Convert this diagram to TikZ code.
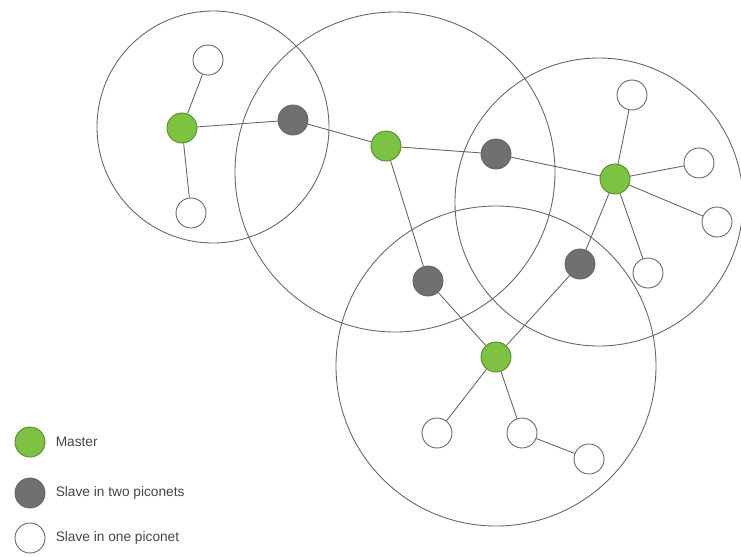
\documentclass[tikz,border=0pt]{standalone}
\usepackage{fontspec}
\setsansfont{Liberation Sans}
\usetikzlibrary{calc,positioning}
\definecolor{mastergreen}{HTML}{7DC243}
\definecolor{slavegray}{HTML}{707070}
\definecolor{linegray}{HTML}{666666}
\definecolor{textgray}{HTML}{454545}
\tikzset{
  dev/.style={circle, inner sep=0pt, minimum size=0.6cm, line width=0.5pt},
  master/.style={dev, draw=mastergreen!70!black, fill=mastergreen},
  slavetwo/.style={dev, draw=slavegray!90!black, fill=slavegray},
  slaveone/.style={dev, draw=linegray, fill=white},
  piconet/.style={draw=linegray, line width=0.5pt},
  link/.style={draw=linegray, line width=0.5pt},
  legend/.style={inner sep=0pt, text=textgray, font=\sffamily\fontsize{7.8}{9.5}\selectfont}
}

\begin{document}
\begin{tikzpicture}[x=0.02cm, y=-0.02cm]
\useasboundingbox (0,0) rectangle (741,556);
% piconets
\draw[piconet] (213,127) circle (116*0.02cm);
\draw[piconet] (395,172) circle (160*0.02cm);
\draw[piconet] (599,202) circle (144*0.02cm);
\draw[piconet] (496,366) circle (160*0.02cm);

% masters
\node[master] (mA) at (182,128) {};
\node[master] (mB) at (386,146) {};
\node[master] (mC) at (615,179) {};
\node[master] (mD) at (496,357) {};

% slaves in two piconets
\node[slavetwo] (g1) at (293,120) {};
\node[slavetwo] (g2) at (496,154) {};
\node[slavetwo] (g3) at (428,281) {};
\node[slavetwo] (g4) at (580,264) {};

% slaves in one piconet
\foreach \name/\x/\y in {a1/208/60, a2/191/213, c1/632/95, c2/699/163, c3/717/222, c4/648/273, d1/437/433, d2/522/433, d3/589/459}
  \node[slaveone] (\name) at (\x,\y) {};

% links
\draw[link] (mA) -- (a1);
\draw[link] (mA) -- (a2);
\draw[link] (mA) -- (g1) -- (mB) -- (g2) -- (mC);
\draw[link] (mB) -- (g3) -- (mD) -- (g4) -- (mC);
\foreach \s in {c1,c2,c3,c4}
  \draw[link] (mC) -- (\s);
\draw[link] (mD) -- (d1);
\draw[link] (mD) -- (d2) -- (d3);

% legend
\node[master] (lm) at (30,442) {};
\node[slavetwo] (lg) at (30,493) {};
\node[slaveone] (lw) at (30,538) {};
\node[legend, right=0.2cm of lm] {Master};
\node[legend, right=0.2cm of lg] {Slave in two piconets};
\node[legend, right=0.2cm of lw] {Slave in one piconet};
\end{tikzpicture}
\end{document}
